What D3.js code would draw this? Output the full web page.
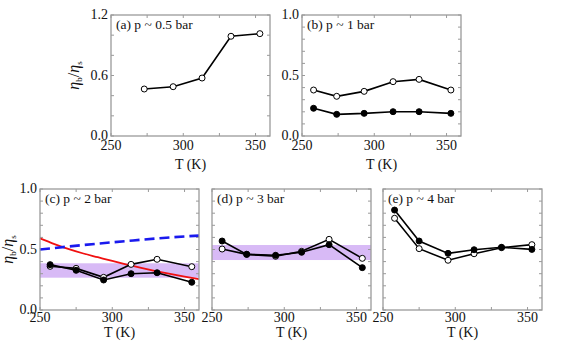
<!DOCTYPE html>
<html><head><meta charset="utf-8">
<script src="https://cdn.jsdelivr.net/npm/d3@7"></script>
<style>body{margin:0;background:#fff}svg{display:block}</style>
</head><body><svg id="c" width="567" height="351"></svg>
<script>
// ---- data ----
const xTicks = [250, 300, 350];
const T_a = [273, 293, 313, 333, 353];
const a_open = [0.466, 0.489, 0.575, 0.989, 1.015];
const T_b = [258, 274, 293, 313, 331, 353];
const b_open = [0.38, 0.328, 0.369, 0.449, 0.468, 0.38];
const b_filled = [0.229, 0.179, 0.187, 0.201, 0.201, 0.187];
const T_c = [257, 275, 294, 313, 331, 355];
const c_open = [0.361, 0.344, 0.270, 0.377, 0.419, 0.358];
const c_filled = [0.375, 0.328, 0.248, 0.300, 0.308, 0.229];
const T_d = [257, 274, 294, 312, 331, 354];
const d_open = [0.504, 0.46, 0.444, 0.485, 0.584, 0.427];
const d_filled = [0.570, 0.46, 0.452, 0.477, 0.54, 0.35];
const T_e = [258, 275, 295, 313, 332, 353];
const e_open = [0.758, 0.507, 0.411, 0.465, 0.515, 0.540];
const e_filled = [0.826, 0.570, 0.468, 0.498, 0.518, 0.501];
const band_c = [0.267, 0.386];
const band_d = [0.413, 0.537];
const red_T = [250, 260, 270, 280, 290, 300, 310, 320, 330, 340, 350, 360];
const red_v = [0.592, 0.545, 0.503, 0.467, 0.436, 0.405, 0.376, 0.348, 0.322, 0.298, 0.276, 0.256];
const blue_T = [250, 280, 310, 340, 360];
const blue_v = [0.50, 0.537, 0.570, 0.600, 0.615];

const FONT = "Liberation Serif";
const svg = d3.select("#c");
const panels = [
  {id:"a", x0:111, y0:15, label:"(a) p ~ 0.5 bar", ymax:1.2, yt:[0,0.6,1.2], ym:0.2, ylab:-32, showY:true, tl:14, xl:33,
   series:[{T:T_a, v:a_open, fill:false}]},
  {id:"b", x0:302, y0:15, label:"(b) p ~ 1 bar", ymax:1.0, yt:[0,0.5,1.0], ym:0.1, ylab:null, showY:true, tl:14, xl:33,
   series:[{T:T_b, v:b_open, fill:false},{T:T_b, v:b_filled, fill:true}]},
  {id:"c", x0:40, y0:189, label:"(c) p ~ 2 bar", ymax:1.0, yt:[0,0.5,1.0], ym:0.1, ylab:-27, showY:true, band:band_c, curves:true, tl:11.5, xl:27,
   series:[{T:T_c, v:c_open, fill:false},{T:T_c, v:c_filled, fill:true}]},
  {id:"d", x0:212, y0:189, label:"(d) p ~ 3 bar", ymax:1.0, yt:[0,0.5,1.0], ym:0.1, ylab:null, showY:false, band:band_d, tl:11.5, xl:27,
   series:[{T:T_d, v:d_open, fill:false},{T:T_d, v:d_filled, fill:true}]},
  {id:"e", x0:383, y0:189, label:"(e) p ~ 4 bar", ymax:1.0, yt:[0,0.5,1.0], ym:0.1, ylab:null, showY:false, tl:11.5, xl:27,
   series:[{T:T_e, v:e_open, fill:false},{T:T_e, v:e_filled, fill:true}]}
];
const W = 159, H = 121;
const gray = "#9a9a9a";

function txt(g) { return g.append("text").attr("font-family", FONT).attr("fill", "#111"); }

panels.forEach(p => {
  const g = svg.append("g").attr("transform", `translate(${p.x0},${p.y0})`);
  const x = d3.scaleLinear().domain([250, 360]).range([0, W]);
  const y = d3.scaleLinear().domain([0, p.ymax]).range([H, 0]);
  if (p.band) {
    g.append("rect").attr("x", 0).attr("width", W)
      .attr("y", y(p.band[1])).attr("height", y(p.band[0]) - y(p.band[1]))
      .attr("fill", "#d8baf6");
  }
  const xt = d3.range(250, 361, 25);
  const ytk = d3.range(0, p.ymax + 1e-9, p.ym);
  const tk = g.append("g").attr("stroke", gray).attr("stroke-width", 1);
  xt.forEach(t => {
    tk.append("line").attr("x1", x(t)).attr("x2", x(t)).attr("y1", H).attr("y2", H - 3);
    tk.append("line").attr("x1", x(t)).attr("x2", x(t)).attr("y1", 0).attr("y2", 3);
  });
  ytk.forEach(t => {
    tk.append("line").attr("x1", 0).attr("x2", 3).attr("y1", y(t)).attr("y2", y(t));
    tk.append("line").attr("x1", W).attr("x2", W - 3).attr("y1", y(t)).attr("y2", y(t));
  });
  if (p.curves) {
    const lr = d3.line().x((d,i)=>x(red_T[i])).y(d=>y(d)).curve(d3.curveMonotoneX);
    g.append("path").attr("d", lr(red_v)).attr("fill","none").attr("stroke","#f01010").attr("stroke-width",1.8);
    const lb = d3.line().x((d,i)=>x(blue_T[i])).y(d=>y(d)).curve(d3.curveMonotoneX);
    g.append("path").attr("d", lb(blue_v)).attr("fill","none").attr("stroke","#1a1aee").attr("stroke-width",2.6)
      .attr("stroke-dasharray","10,5");
  }
  p.series.forEach(s => {
    const ln = d3.line().x((d,i)=>x(s.T[i])).y(d=>y(d));
    g.append("path").attr("d", ln(s.v)).attr("fill","none").attr("stroke","#000").attr("stroke-width",1.6);
    g.selectAll(null).data(s.v).enter().append("circle")
      .attr("cx",(d,i)=>x(s.T[i])).attr("cy",d=>y(d)).attr("r",3)
      .attr("fill", s.fill ? "#000" : "#fff").attr("stroke","#000").attr("stroke-width",1);
  });
  g.append("rect").attr("width", W).attr("height", H).attr("fill","none").attr("stroke", gray).attr("stroke-width",1.3);
  xTicks.forEach(t => {
    txt(g).attr("x", x(t)).attr("y", H + p.tl).attr("text-anchor","middle").attr("font-size",14).text(t);
  });
  if (p.showY) {
    p.yt.forEach(t => {
      txt(g).attr("x", -3).attr("y", y(t) + 4).attr("text-anchor","end").attr("font-size",14).text(t.toFixed(1));
    });
  }
  txt(g).attr("x", W/2).attr("y", H + p.xl).attr("text-anchor","middle").attr("font-size",14).text("T (K)");
  txt(g).attr("x", 5).attr("y", 14).attr("font-size",13.5).text(p.label);
  if (p.ylab !== null) {
    const t = txt(g).attr("transform", `translate(${p.ylab},${H/2}) rotate(-90)`).attr("text-anchor","middle").attr("font-size",16);
    t.append("tspan").attr("font-style","italic").text("η");
    t.append("tspan").attr("font-size",9).attr("dy",3).text("b");
    t.append("tspan").attr("dy",-3).text("/");
    t.append("tspan").attr("font-style","italic").text("η");
    t.append("tspan").attr("font-size",9).attr("dy",3).text("s");
  }
});
</script></body></html>
